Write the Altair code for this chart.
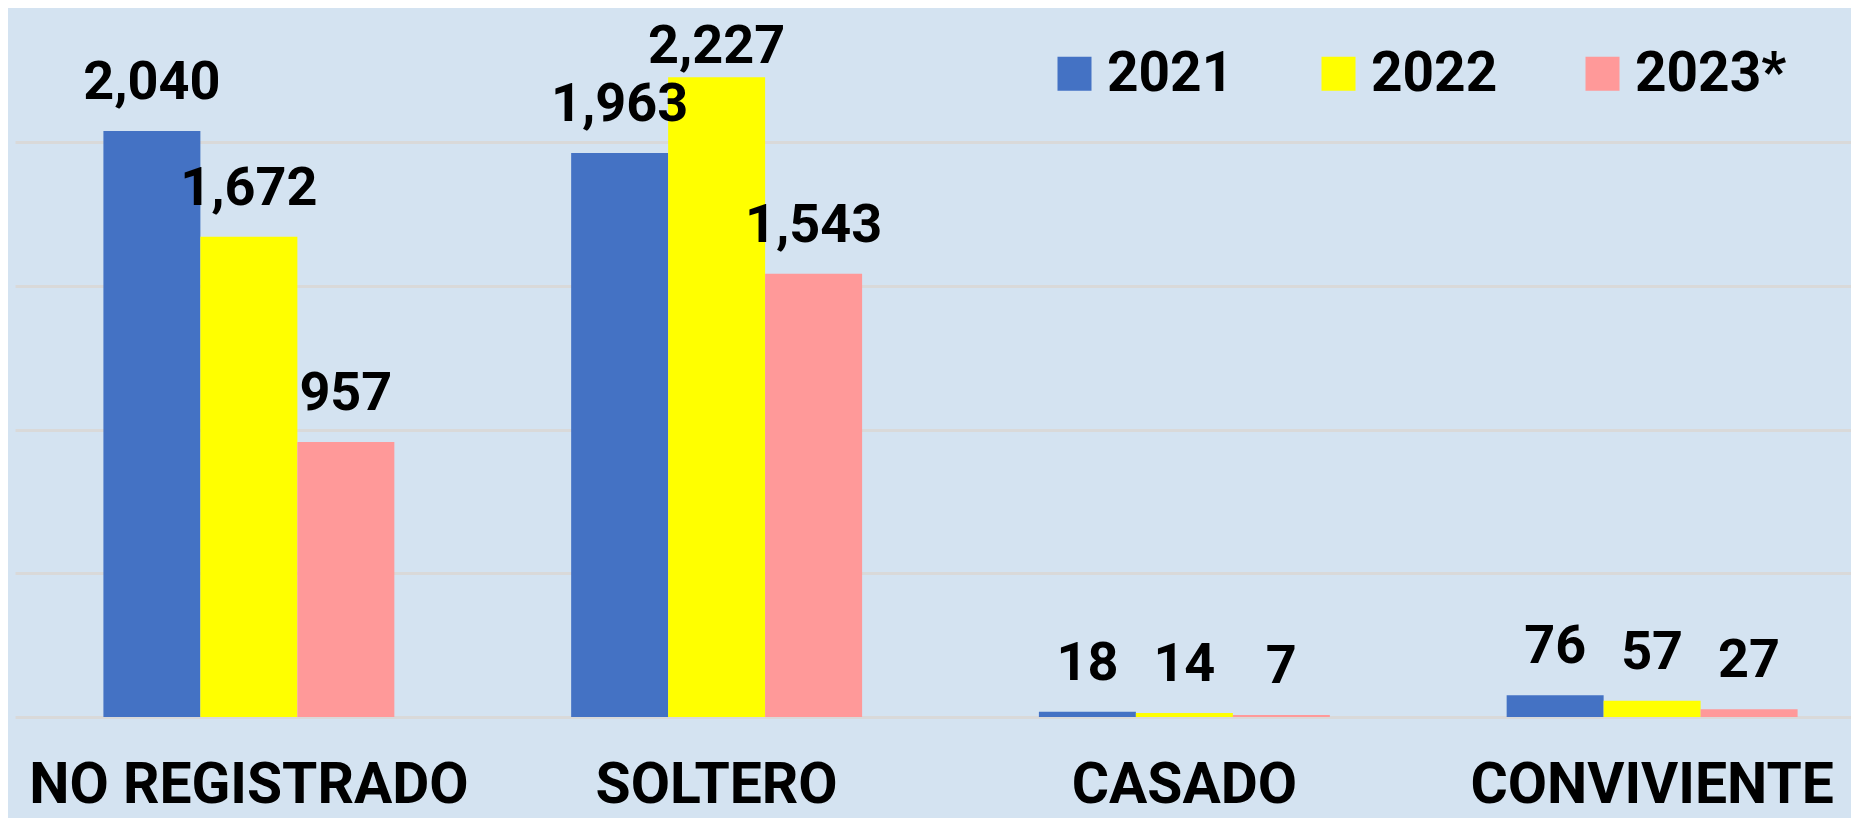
import altair as alt
import pandas as pd

categories = ["NO REGISTRADO", "SOLTERO", "CASADO", "CONVIVIENTE"]
years = ["2021", "2022", "2023*"]
v2021 = [2040, 1963, 18, 76]
v2022 = [1672, 2227, 14, 57]
v2023 = [957, 1543, 7, 27]
colors = ["#4472C4", "#FFFF00", "#FF9999"]
grid_values = [0, 500, 1000, 1500, 2000]

rows = []
for yr, vals in zip(years, [v2021, v2022, v2023]):
    for c, v in zip(categories, vals):
        rows.append({"cat": c, "year": yr, "value": v, "label": f"{v:,}"})
df = pd.DataFrame(rows)

FONT = "Roboto"
W, H = 1828, 709
band_range = 1871
p_inner = 0.378
Y_MAX = 2468
LABEL_CLAMP = 2165  # labels are kept inside the plot area, as the original does

x = alt.X("cat:N", sort=categories, title=None,
          scale=alt.Scale(range=[0, band_range], paddingInner=p_inner, paddingOuter=p_inner / 2),
          axis=alt.Axis(labelAngle=0, labelFont=FONT, labelFontWeight="bold", labelFontSize=57,
                        labelColor="black", ticks=False, domain=False, labelPadding=85,
                        labelBaseline="alphabetic", grid=False, labelLimit=800,
                        labelOverlap=False))
xo = alt.XOffset("year:N", sort=years, scale=alt.Scale(paddingInner=0, paddingOuter=0))
yscale = alt.Scale(domain=[0, Y_MAX], nice=False, zero=True)
y = alt.Y("value:Q", title=None, scale=yscale,
          axis=alt.Axis(values=grid_values, labels=False, ticks=False, domain=False, grid=True,
                        gridColor="#d9d9d9", gridWidth=3))

bars = alt.Chart(df).mark_bar().encode(
    x=x, xOffset=xo, y=y,
    color=alt.Color("year:N", sort=years, scale=alt.Scale(domain=years, range=colors),
                    legend=alt.Legend(title=None, orient="none", direction="horizontal",
                                      legendX=1032, legendY=38, symbolType="square",
                                      symbolSize=1156, symbolStrokeWidth=0, labelOffset=5,
                                      columnPadding=77, labelFont=FONT, labelFontWeight="bold",
                                      labelFontSize=55, labelColor="black", padding=0,
                                      symbolOpacity=1, labelLimit=400)),
)

labels = alt.Chart(df).transform_calculate(
    ly=f"min(datum.value, {LABEL_CLAMP})"
).mark_text(font=FONT, fontWeight="bold", fontSize=54, color="black",
            baseline="alphabetic", align="center", dy=-32).encode(
    x=x, xOffset=xo, y=alt.Y("ly:Q", scale=yscale), text="label:N"
)

chart = alt.layer(bars, labels).properties(
    width=W, height=H,
    autosize=alt.AutoSizeParams(type="none"),
    padding={"left": 7, "top": 0, "right": 8, "bottom": 101},
    background="#d4e3f1",
).configure_view(stroke=None)

chart.save("out.html", embed_options={"renderer": "svg", "actions": False})
